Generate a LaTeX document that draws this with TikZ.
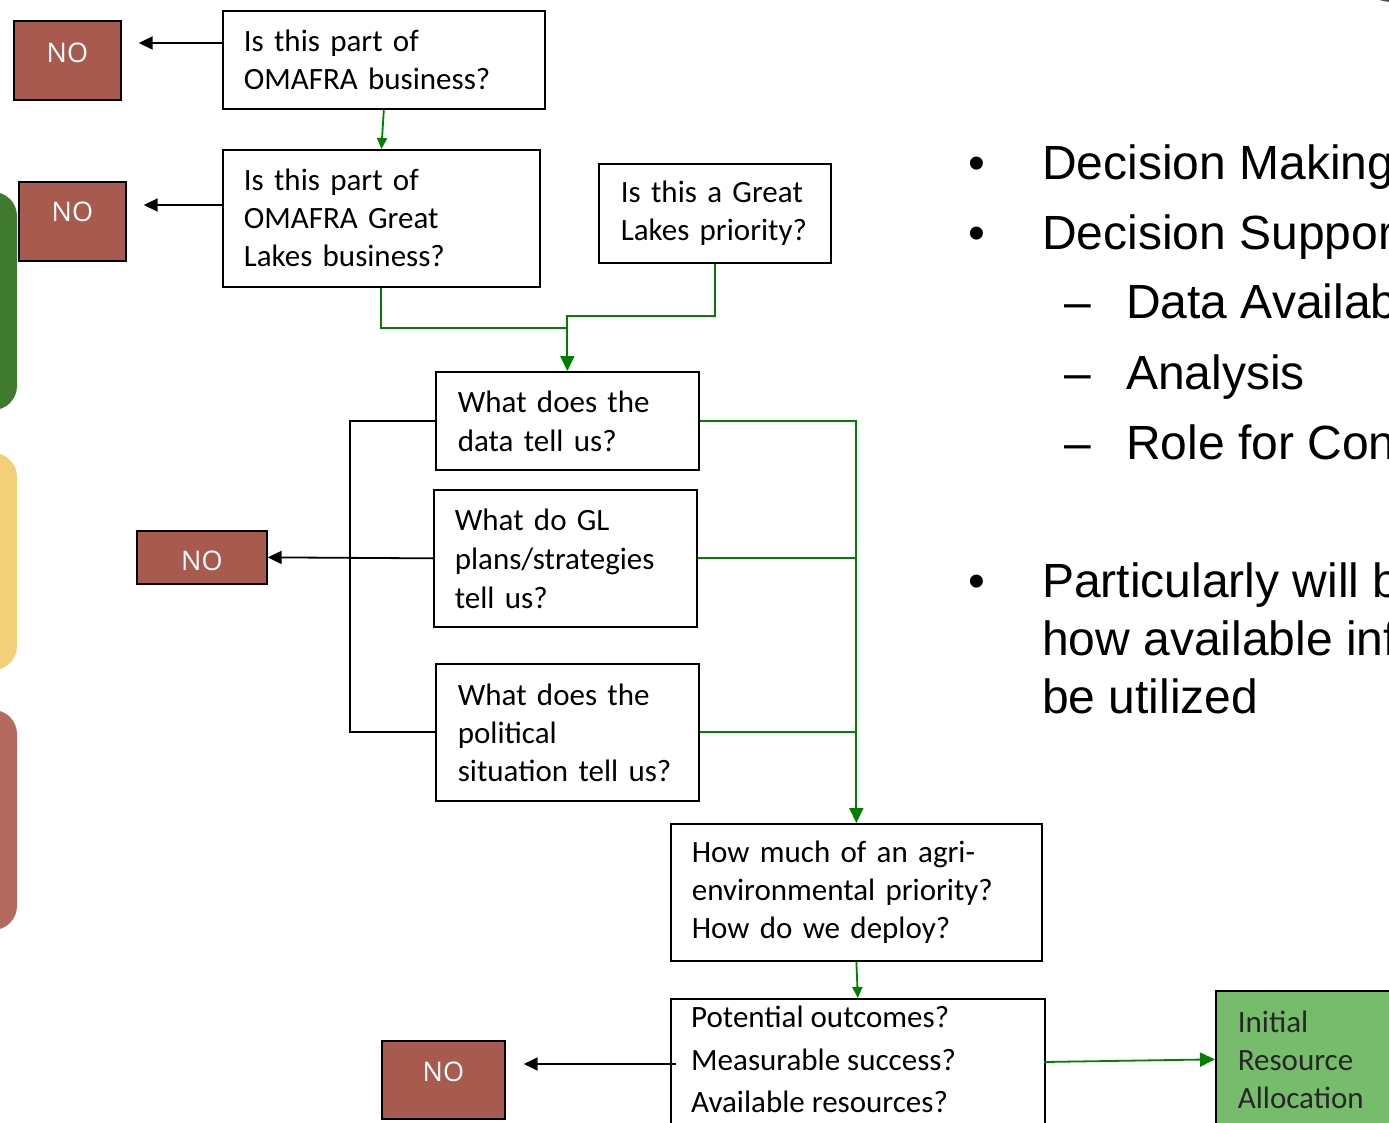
\documentclass[tikz,border=0pt]{standalone}
\usepackage{fontspec}
\setmainfont{Carlito}
\newfontfamily\arialf{Liberation Sans}
\newfontfamily\nofont{Open Sans}
\usetikzlibrary{arrows.meta,calc}
\definecolor{nored}{RGB}{168,90,78}
\definecolor{lgreen}{RGB}{0,128,0}
\definecolor{boxgreen}{RGB}{118,188,108}
\definecolor{sideg}{RGB}{63,122,46}
\definecolor{sidey}{RGB}{242,208,122}
\definecolor{sider}{RGB}{181,106,96}
\begin{document}
\begin{tikzpicture}[x=1pt,y=-1pt,
  qbox/.style={draw=black, line width=1.7pt, fill=white, inner ysep=0pt, align=left,
    anchor=north west, font=\fontsize{31}{38}\selectfont},
  nobox/.style={draw=black, line width=1.7pt, fill=nored, text=white, inner sep=0pt,
    anchor=north west, font=\nofont\fontsize{27}{30}\selectfont},
  blk/.style={draw=black, line width=1.8pt, -{Triangle[length=14pt,width=13pt]}},
  blkline/.style={draw=black, line width=1.8pt},
  grn/.style={draw=lgreen, line width=1.8pt},
  grnarr/.style={grn, -{Triangle[length=15pt,width=14pt]}},
  grnsmall/.style={grn, -{Triangle[length=11pt,width=10pt]}},
  bul/.style={anchor=base west, inner sep=0pt, font=\arialf\fontsize{48}{58}\selectfont},
  side/.style={rounded corners=24pt}
]
\useasboundingbox (0,0) rectangle (1389,1123);
\clip (0,0) rectangle (1389,1123);

% side shapes
\fill[sideg, side] (-60,192) rectangle (17,410);
\fill[sidey, side] (-60,453) rectangle (17,670);
\fill[sider, side] (-60,710) rectangle (17,930);
\fill[gray!60!black] (1393,-7) ellipse (21pt and 9pt);

% NO boxes
\node[nobox, minimum width=107pt, minimum height=79pt] (no1) at (13,20) {\raisebox{8pt}[\height][\depth]{NO}};
\node[nobox, minimum width=107pt, minimum height=79pt] (no2) at (18,181) {\raisebox{10pt}[\height][\depth]{NO}};
\node[nobox, minimum width=130pt, minimum height=53pt] (no3) at (136,530) {\raisebox{-3pt}[\height][\depth]{NO}};
\node[nobox, minimum width=123pt, minimum height=78pt] (no4) at (381,1040) {\raisebox{8pt}[\height][\depth]{NO}};

% question boxes
\node[qbox, inner xsep=21pt, text width=280pt, minimum width=322pt, minimum height=98pt] (b1) at (222,10)
  {Is~this~part~of\\OMAFRA~business?};
\node[qbox, inner xsep=21pt, text width=275pt, minimum width=317pt, minimum height=137pt] (b2) at (222,149)
  {Is~this~part~of\\OMAFRA~Great\\Lakes~business?};
\node[qbox, inner xsep=22pt, text width=188pt, minimum width=232pt, minimum height=99pt] (b3) at (598,163)
  {Is~this~a~Great\\Lakes~priority?};
\node[qbox, inner xsep=22pt, text width=219pt, minimum width=263pt, minimum height=98pt, font=\fontsize{31}{39}\selectfont] (b4) at (435,371)
  {What~does~the\\data~tell~us?};
\node[qbox, inner xsep=21pt, text width=221pt, minimum width=263pt, minimum height=137pt, font=\fontsize{31}{39}\selectfont] (b5) at (433,489)
  {What~do~GL\\plans/strategies\\tell~us?};
\node[qbox, inner xsep=22pt, text width=219pt, minimum width=263pt, minimum height=137pt] (b6) at (435,663)
  {What~does~the\\political\\situation~tell~us?};
\node[qbox, inner xsep=21pt, text width=329pt, minimum width=371pt, minimum height=137pt] (b7) at (670,823)
  {How~much~of~an~agri-\\environmental~priority?\\How~do~we~deploy?};
\node[qbox, minimum width=374pt, minimum height=150pt] (b8) at (670,998) {};
\node[anchor=west, align=left, inner sep=0pt, font=\fontsize{31}{42.5}\selectfont] (b8t) at (691,1059.5)
  {Potential~outcomes?\\Measurable~success?\\Available~resources?};
\node[qbox, fill=boxgreen, text=black!85, inner xsep=22pt, text width=161pt, minimum width=205pt, minimum height=137pt] (ga) at (1215,990)
  {Initial\\Resource\\Allocation};

% helper coordinates
\path (0,43) coordinate (h1) (0,205) coordinate (h2) (676,1064) coordinate (s4) (1044,1062) coordinate (s5);

% black connectors
\draw[blk, shorten >=17pt] (b1.west |- h1) -- (no1.east |- h1);
\draw[blk, shorten >=17pt] (b2.west |- h2) -- (no2.east |- h2);
\draw[blkline] (b4.west) -- ++(-85,0) |- (b6.west);
\draw[blk] (b5.west) -- (no3.east);
\draw[blk, shorten >=18pt] (s4) -- (s4 -| no4.east);

% green connectors
\draw[grnsmall] (b1.south) -- (b2.north);
\draw[grn] (b2.south) |- ($(b4.north)+(0,-43)$);
\draw[grnarr] (b3.south) |- ($(b4.north)+(0,-55)$) -- (b4.north);
\draw[grnarr] (b4.east) -| (b7.north);
\draw[grn] (b5.east) -- (b5.east -| b7.north);
\draw[grn] (b6.east) -- (b6.east -| b7.north);
\draw[grnsmall] (b7.south) -- (b8.north);
\draw[grnarr] (s5) -- (ga.west);

% right text
\node[bul] (d1) at (968,180) {•};
\node[bul] (t1) at (1042,180) {Decision Making};
\node[bul] (d2) at (968,250) {•};
\node[bul] (t2) at (1042,250) {Decision Support};
\node[bul] (d3) at (1064,319) {–};
\node[bul] (t3) at (1126,319) {Data Availability};
\node[bul] (d4) at (1064,389) {–};
\node[bul] (t4) at (1126,389) {Analysis};
\node[bul] (d5) at (1064,459) {–};
\node[bul] (t5) at (1126,459) {Role for Conservation};
\node[bul] (d6) at (968,597) {•};
\node[bul] (t6) at (1042,597) {Particularly will be};
\node[bul] (t7) at (1042,655) {how available information};
\node[bul] (t8) at (1042,713) {be utilized};
\end{tikzpicture}
\end{document}
